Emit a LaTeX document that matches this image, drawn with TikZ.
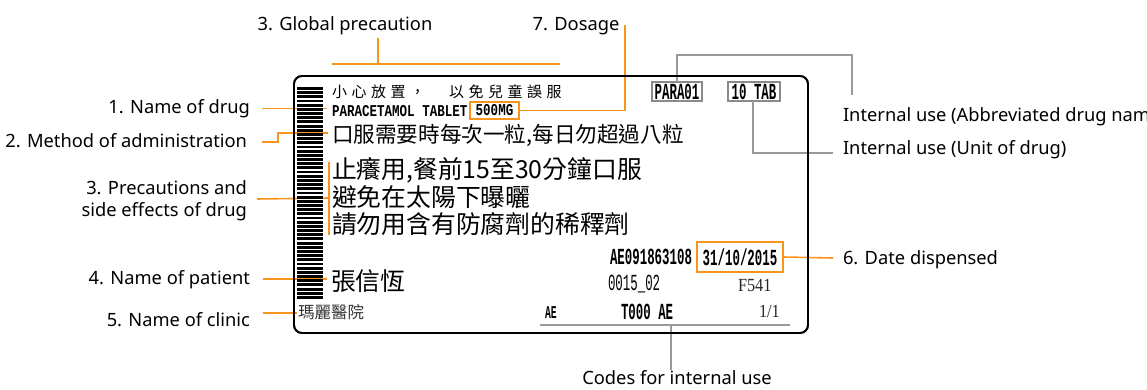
\documentclass[tikz,border=0pt]{standalone}
\usepackage{fontspec}
\usetikzlibrary{calc}
\setmainfont{Noto Sans}
\newfontfamily\cjk{Noto Sans CJK TC}
\newfontfamily\monoA[FakeStretch=0.76]{Liberation Mono}
\newfontfamily\monoB[FakeStretch=0.54]{Liberation Mono}
\newfontfamily\serifc[FakeStretch=0.88]{Liberation Serif}
\definecolor{orng}{HTML}{F7941D}
\definecolor{lgray}{HTML}{9A9A9A}
\definecolor{bgray}{HTML}{8A8A8A}
\tikzset{
  lab/.style={font=\fontsize{18.3}{22}\selectfont, text=black, text height=13, text depth=0},
  oline/.style={draw=orng, line width=1.6},
  gline/.style={draw=lgray, line width=1.6},
  obox/.style={draw=orng, line width=1.6},
  gbox/.style={draw=bgray, line width=1.3, fill=white},
  cjkA/.style={font=\cjk\fontsize{15}{18}\selectfont},
  cjkB/.style={font=\cjk\fontsize{21.6}{24}\selectfont},
  cjkC/.style={font=\cjk\fontsize{24.8}{28}\selectfont},
  mA/.style={font=\monoA\bfseries\fontsize{16.5}{18}\selectfont},
  mB/.style={font=\monoB\bfseries\fontsize{23}{24}\selectfont},
  mBr/.style={font=\monoB\fontsize{23}{24}\selectfont},
  sr/.style={font=\serifc\fontsize{18.5}{20}\selectfont, text=black!85},
}
\begin{document}
\begin{tikzpicture}[x=1pt,y=-1pt, every node/.style={inner sep=0pt, outer sep=0pt}]
\useasboundingbox (0,0) rectangle (1147,390);

% ---------- labels outside ----------
\node[lab, anchor=east] (l1) at (250,107) {1. Name of drug};
\node[lab, anchor=east] (l2) at (247,141) {2. Method of administration};
\node[lab, anchor=east] (l3a) at (247,188) {3. Precautions and};
\node[lab, anchor=east] (l3b) at (247,210) {side effects of drug};
\node[lab, anchor=east] (l4) at (250,278) {4. Name of patient};
\node[lab, anchor=east] (l5) at (250,320) {5. Name of clinic};
\node[lab] (gp) at (345,24) {3. Global precaution};
\node[lab] (dos) at (576,24) {7. Dosage};
\node[lab, anchor=west] (iu1) at (843,115) {Internal use (Abbreviated drug name)};
\node[lab, anchor=west] (iu2) at (843,148) {Internal use (Unit of drug)};
\node[lab, anchor=west] (dd) at (843,258) {6. Date dispensed};
\node[lab] (codes) at (677,378) {Codes for internal use};

% ---------- coordinates for connectors ----------
\coordinate (gpTop) at (378,38);
\coordinate (gpL) at (332,64);
\coordinate (gpR) at (560,64);
\coordinate (dosTop) at (625,25);
\coordinate (m2) at (328,133);
\coordinate (p3T) at (329,162);
\coordinate (p3B) at (329,235);
\coordinate (p3M) at (329,198);
\coordinate (n1) at (327,108.5);
\coordinate (n4) at (327,279);
\coordinate (n5) at (297,313);
\coordinate (abbr) at (852,95);
\coordinate (unit) at (833,153);
\coordinate (dateEnd) at (833,258);
\coordinate (codL) at (540,325);
\coordinate (codR) at (790,325);
\coordinate (codM) at (671,325);
\coordinate (codEnd) at (671,370);

% ---------- connectors (behind the label) ----------
\draw[oline] (gpTop) -- (gpTop |- gpL);
\draw[oline] (gpL) -- (gpR);
\draw[oline] ([xshift=12pt]l1.east |- n1) -- (n1);
\draw[oline] ([xshift=15pt,yshift=-1pt]l2.east) -- ++(16,0) |- (m2);
\draw[oline] (p3T) -- (p3B);
\draw[oline] ($(l3a.east)!0.5!(l3b.east)+(10,0)$) -- (p3M);
\draw[oline] ([xshift=13pt]l4.east |- n4) -- (n4);
\draw[oline] ([xshift=13pt]l5.east |- n5) -- (n5);

% ---------- label ----------
\node[draw, line width=1.8, rounded corners=8, minimum width=514, minimum height=257] (label) at (551,204.5) {};

% barcode
\foreach \i in {0,...,50} {
  \fill (297,{87+\i*4.18}) rectangle ++(26,2.9);
}

% texts
\node[cjkA, anchor=west] (glob) at (332,92) {小\kern4.5pt 心\kern4.5pt 放\kern4.5pt 置\kern4.5pt ，\kern4.5pt \kern19.5pt 以\kern4.5pt 免\kern4.5pt 兒\kern4.5pt 童\kern4.5pt 誤\kern4.5pt 服};
\node[mA, anchor=west] (drug) at (332,111) {PARACETAMOL TABLET};
\node[obox, mA, minimum width=49, minimum height=17] (dose) at (494.5,110.5) {500MG};
\node[cjkB, anchor=west] (meth) at (332,135) {口服需要時每次一粒,每日勿超過八粒};
\node[cjkC, anchor=west] (pr1) at (332,170) {止癢用,餐前15至30分鐘口服};
\node[cjkC, anchor=west] (pr2) at (332,197) {避免在太陽下曝曬};
\node[cjkC, anchor=west] (pr3) at (332,224) {請勿用含有防腐劑的稀釋劑};
\node[cjkC, anchor=west] (pat) at (331,281) {張信恆};
\node[font=\cjk\fontsize{16.5}{18}\selectfont, text=black!80, anchor=west] (clin) at (298,312) {瑪麗醫院};

\node[gbox, mB, minimum width=50, minimum height=19] (para) at (677,91.5) {PARA01};
\node[gbox, mB, minimum width=52, minimum height=19] (tab) at (754,91.5) {10 TAB};

\node[mB, anchor=west] (ae1) at (610,257) {AE091863108};
\node[obox, mB, minimum width=86, minimum height=30] (date) at (740,257) {31/10/2015};
\node[mBr, anchor=west] (code2) at (608,284) {0015\_02};
\node[sr, anchor=west] (f541) at (738,285) {F541};
\node[mB, anchor=west, font=\monoB\bfseries\fontsize{18}{20}\selectfont] (ae2) at (545,313) {AE};
\node[mB, anchor=west] (t000) at (621,312) {T000 AE};
\node[sr, anchor=west] (pg) at (759,311) {1/1};

% ---------- connectors on the right ----------
\draw[gline] (para.north) -- ++(0,-27) -| (abbr);
\draw[gline] ([xshift=-1pt]tab.south) |- (unit);
\draw[oline] (date.east) -- (dateEnd);
\draw[gline] (codL) -- (codR);
\draw[gline] (codM) -- (codEnd);
\draw[oline] (dosTop) |- (dose.east);

% redraw label border over connectors that cross it
\node[draw, line width=1.8, rounded corners=8, minimum width=514, minimum height=257] (labelb) at (551,204.5) {};
\end{tikzpicture}
\end{document}
